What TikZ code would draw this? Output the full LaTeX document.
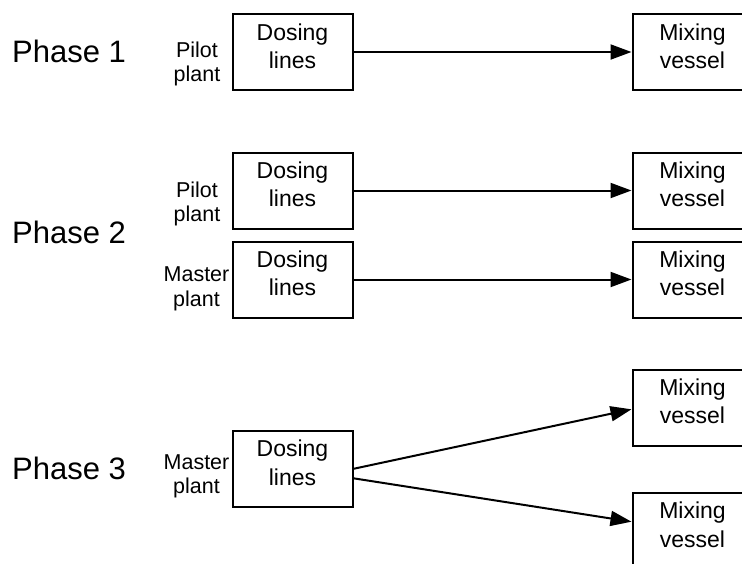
\documentclass[tikz,border=0pt]{standalone}
\usepackage{fontspec}
\setmainfont{Liberation Sans}
\usetikzlibrary{arrows.meta}
\tikzset{
  unit/.style={draw, line width=2pt, minimum width=120pt, minimum height=76pt,
    align=center, inner sep=0pt, font=\fontsize{23}{28.3}\selectfont},
  plant/.style={align=center, inner sep=0pt, font=\fontsize{21.5}{24.4}\selectfont},
  phase/.style={anchor=base west, inner sep=0pt, font=\fontsize{31}{37}\selectfont},
  feed/.style={line width=2pt, -{Triangle[length=21pt,width=15pt]}}
}
\newcommand{\lowfill}{\rule[-12pt]{0pt}{12pt}}
\begin{document}
\begin{tikzpicture}[x=1pt,y=-1pt]
\clip (0,0) rectangle (742,563);
% phase 1
\node[phase] (ph1) at (12,62.7) {Phase 1};
\node[plant] (p1) at (197,64) {Pilot\\plant};
\node[unit] (d1) at (292.5,52) {Dosing\\lines\lowfill};
\node[unit] (m1) at (692.5,52) {Mixing\\vessel\lowfill};
\draw[feed] (d1) -- (m1);
% phase 2
\node[phase] (ph2) at (12,243.3) {Phase 2};
\node[plant] (p2a) at (197,204) {Pilot\\plant};
\node[plant] (p2b) at (196.5,289) {Master\\plant};
\node[unit] (d2a) at (292.5,190.5) {Dosing\\lines\lowfill};
\node[unit] (d2b) at (292.5,279.5) {Dosing\\lines\lowfill};
\node[unit] (m2a) at (692.5,190.5) {Mixing\\vessel\lowfill};
\node[unit] (m2b) at (692.5,279.5) {Mixing\\vessel\lowfill};
\draw[feed] (d2a) -- (m2a);
\draw[feed] (d2b) -- (m2b);
% phase 3
\node[phase] (ph3) at (12,479.3) {Phase 3};
\node[plant] (p3) at (196.5,476.4) {Master\\plant};
\node[unit] (d3) at (292.5,468.8) {Dosing\\lines\lowfill};
\node[unit] (m3a) at (692.5,407.5) {Mixing\\vessel\lowfill};
\node[unit] (m3b) at (692.5,530.7) {Mixing\\vessel\lowfill};
\draw[feed] (d3.east) -- ([yshift=-1.8pt]m3a.west);
\draw[feed] ([yshift=-9.5pt]d3.east) -- ([yshift=9pt]m3b.west);
\end{tikzpicture}
\end{document}
